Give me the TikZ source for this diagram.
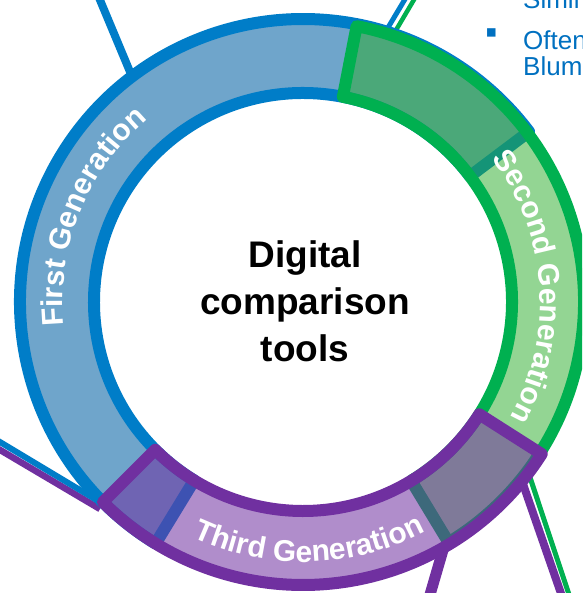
\documentclass[tikz,border=0pt]{standalone}
\usepackage{fontspec}
\setmainfont{Liberation Sans}
\usetikzlibrary{decorations.text,arrows.meta}

\definecolor{genblue}{RGB}{0,125,200}
\definecolor{genbluefill}{RGB}{111,165,203}
\definecolor{gengreen}{RGB}{0,176,80}
\definecolor{gengreenfill}{RGB}{40,172,40}
\definecolor{genpurple}{RGB}{112,48,160}
\definecolor{itemblue}{RGB}{0,112,192}

\begin{document}
\begin{tikzpicture}[x=1pt,y=1pt,line join=round]
      \tikzstyle{seg}=[line width=12pt]
      \tikzstyle{genlabel}=[decorate,decoration={text along path,text align=center}]
      \tikzstyle{item}=[anchor=base west,inner sep=0pt,text=itemblue,
        font=\fontsize{26}{26}\selectfont]
      \tikzstyle{dot}=[inner sep=0pt,text=itemblue,font=\fontsize{34}{34}\selectfont]

      \useasboundingbox (-303,-291) rectangle (279,302);
      \clip (-303,-291) rectangle (279,302);

      % loose ends of the links
      \coordinate (L1) at (-208,314);
      \coordinate (L2) at (107.5,312);
      \coordinate (L3) at (116.7,312);
      \coordinate (L4) at (-313,-134);
      \coordinate (L5) at (-313,-142);
      \coordinate (L6) at (124,-303);
      \coordinate (L7) at (262,-303);
      \coordinate (L8) at (269.5,-303);

      % ring ends of the links
      \coordinate (R1) at (-170,223);
      \coordinate (R2) at (83,271);
      \coordinate (R3) at (92.5,271);
      \coordinate (R4) at (-203,-200);
      \coordinate (R5) at (-203,-207);
      \coordinate (R6) at (140,-248);
      \coordinate (R7) at (220,-182);
      \coordinate (R8) at (223.2,-164);

      \draw[genblue,line width=8pt] (L1) -- (R1);
      \draw[genblue,line width=5pt] (L2) -- (R2);
      \draw[gengreen,line width=4.5pt] (L3) -- (R3);
      \draw[genpurple,line width=6.5pt] (L5) -- (R5);
      \draw[genblue,line width=6pt] (L4) -- (R4);
      \draw[genpurple,line width=11pt] (L6) -- (R6);
      \draw[genpurple,line width=8pt] (L7) -- (R7);
      \draw[gengreen,line width=5pt,-{Triangle[length=9pt,width=11pt]}] (L8) -- (R8);

      % the three generations
      \draw[seg,draw=genblue,fill=genbluefill]
        (238.6:283) arc[start angle=238.6,end angle=37,radius=283]
        -- (37:209) arc[start angle=37,end angle=238.6,radius=209] -- cycle;
      \draw[seg,draw=gengreen,fill=gengreenfill,fill opacity=0.5]
        (79:281) arc[start angle=79,end angle=-58.8,radius=281]
        -- (-58.8:209) arc[start angle=-58.8,end angle=79,radius=209] -- cycle;
      \draw[seg,draw=genpurple,fill=genpurple,fill opacity=0.55]
        (-32.5:283) arc[start angle=-32.5,end angle=-135,radius=283]
        -- (-135:209) arc[start angle=-135,end angle=-32.5,radius=209] -- cycle;

      \path[genlabel,decoration={text={|\fontsize{30}{30}\selectfont\bfseries\color{white}|First Generation}}]
        (203:240) arc[start angle=203,end angle=113,radius=240];
      \path[genlabel,decoration={text={|\fontsize{30}{30}\selectfont\bfseries\color{white}|Second Generation}}]
        (49:237) arc[start angle=49,end angle=-41,radius=237];
      \path[genlabel,decoration={text={|\fontsize{30}{30}\selectfont\bfseries\color{white}|Third Generation}}]
        (226.5:260) arc[start angle=226.5,end angle=316.5,radius=260];

      \node[align=center,font=\fontsize{37}{47}\selectfont\bfseries] (tools) at (2,1)
           {Digital\\comparison\\tools};

      % bullet list, running off the edge
      \node[dot] (dot1) at (188.5,307) {▪};
      \node[item] (item1) at (220,293) {Simil};
      \node[dot] (dot2) at (188.5,265.5) {▪};
      \node[item] (item2) at (220,252) {Often};
      \node[item] (item2b) at (220,226) {Blum};

\end{tikzpicture}
\end{document}
